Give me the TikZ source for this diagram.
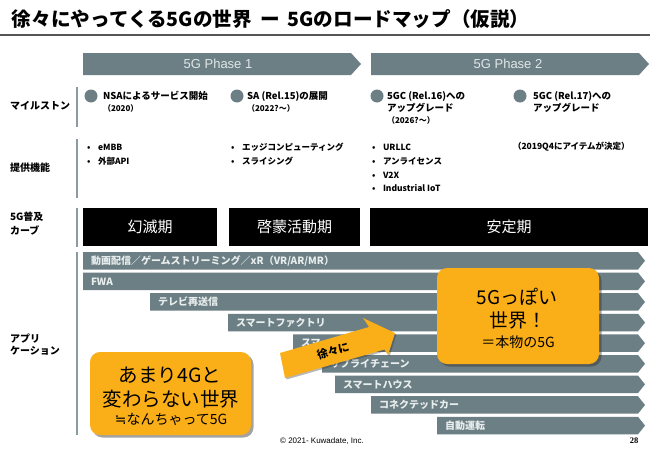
\documentclass[tikz,border=0pt]{standalone}
\usepackage{fontspec}
\setmainfont{Noto Sans CJK JP}
\newfontfamily\latf{Liberation Sans}
\newfontfamily\serf{Liberation Serif}
\newfontfamily\djv{DejaVu Sans}
\usetikzlibrary{shadows}
\definecolor{barc}{RGB}{108,127,132}
\definecolor{bartxt}{RGB}{232,237,237}
\definecolor{phasetxt}{RGB}{225,232,232}
\definecolor{orng}{RGB}{250,174,24}
\definecolor{sepc}{RGB}{140,155,160}
\definecolor{rulec}{RGB}{85,85,85}
\newcommand\fsz[2]{\fontsize{#1}{#2}\selectfont}
\newcommand\bult{\makebox[11pt][l]{•}}
\newcommand\appbar[3]{%
  \pgfmathsetmacro\yt{252+20.6*#1}%
  \fill[barc] (#2,\yt) -- (638,\yt) -- (645,\yt+8.75) -- (638,\yt+17.5) -- (#2,\yt+17.5) -- cycle;
  \node[bartext] (app#1) at (#2+8,\yt+8.75) {#3};
}
\begin{document}
\begin{tikzpicture}[x=1pt,y=-1pt,
  every node/.style={inner sep=0pt, outer sep=0pt},
  lbl/.style={anchor=west, font=\bfseries\fsz{10}{12}},
  ms/.style={anchor=west, font=\bfseries\fsz{9.5}{12}},
  mss/.style={anchor=west, font=\bfseries\fsz{8}{10}},
  msdot/.style={circle, fill=barc, minimum size=13pt},
  bul/.style={anchor=west, font=\bfseries\fsz{8.5}{10}},
  phase/.style={font=\latf\fsz{13}{15}, text=phasetxt},
  curvebox/.style={fill=black, text=white, font=\fsz{15}{18}},
  bartext/.style={anchor=west, font=\bfseries\fsz{10}{12}, text=bartxt},
  obox/.style={fill=orng, rounded corners=10pt,
    drop shadow={shadow xshift=2.5pt, shadow yshift=-2.5pt, opacity=0.45, fill=black!80}},
  sepline/.style={draw=sepc, line width=1.5pt}]
\useasboundingbox (0,0) rectangle (650,450);
\fill[white] (0,0) rectangle (650,450);

% title
\node[anchor=west, font=\bfseries\fsz{19.6}{22}] (title) at (12,19) {徐々にやってくる5Gの世界\hspace{9pt}ー\hspace{7pt}5Gのロードマップ（仮説）};
\coordinate (rl) at (0,35);
\coordinate (rr) at (650,35);
\draw[rulec, line width=2pt] (rl) -- (rr);

% phases
\fill[barc] (83,53) -- (351,53) -- (361,64) -- (351,75) -- (83,75) -- cycle;
\fill[barc] (371,53) -- (639,53) -- (649,64) -- (639,75) -- (371,75) -- cycle;
\node[phase] (ph1) at (218,64) {5G Phase 1};
\node[phase] (ph2) at (508,64) {5G Phase 2};

% row labels
\node[lbl] (lms) at (10,106) {マイルストン};
\node[lbl] (lfn) at (10,168) {提供機能};
\node[lbl] (lcv1) at (10,217) {5G普及};
\node[lbl] (lcv2) at (10,230) {カーブ};
\node[lbl] (lap1) at (10,338) {アプリ};
\node[lbl] (lap2) at (10,351) {ケーション};

% separators
\coordinate (s1a) at (77,87);  \coordinate (s1b) at (77,127);
\coordinate (s2a) at (77,139); \coordinate (s2b) at (77,198);
\coordinate (s3a) at (77,208); \coordinate (s3b) at (77,247);
\coordinate (s4a) at (77,252); \coordinate (s4b) at (77,435);
\draw[sepline] (s1a) -- (s1b);
\draw[sepline] (s2a) -- (s2b);
\draw[sepline] (s3a) -- (s3b);
\draw[sepline] (s4a) -- (s4b);

% milestones
\node[msdot] (d1) at (91,96) {};
\node[ms] (m1a) at (103,96) {NSAによるサービス開始};
\node[mss] (m1b) at (103,108) {（2020）};
\node[msdot] (d2) at (237,96) {};
\node[ms] (m2a) at (247,96) {SA (Rel.15)の展開};
\node[mss] (m2b) at (247,108) {（2022?～）};
\node[msdot] (d3) at (377,96) {};
\node[ms] (m3a) at (387,96) {5GC (Rel.16)への};
\node[ms] (m3b) at (387,108) {アップグレード};
\node[mss] (m3c) at (387,120) {（2026?～）};
\node[msdot] (d4) at (520,96) {};
\node[ms] (m4a) at (533,96) {5GC (Rel.17)への};
\node[ms] (m4b) at (533,108) {アップグレード};

% functions
\node[bul] (f1a) at (87,147) {\bult eMBB};
\node[bul] (f1b) at (87,161) {\bult 外部API};
\node[bul] (f2a) at (231,147) {\bult エッジコンピューティング};
\node[bul] (f2b) at (231,161) {\bult スライシング};
\node[bul] (f3a) at (372,147) {\bult URLLC};
\node[bul] (f3b) at (372,161) {\bult アンライセンス};
\node[bul] (f3c) at (372,175) {\bult V2X};
\node[bul] (f3d) at (372,188) {\bult Industrial IoT};
\node[bul] (f4a) at (513,147) {（2019Q4にアイテムが決定）};

% curve boxes
\node[curvebox, minimum width=134pt, minimum height=38pt] (c1) at (150,227) {幻滅期};
\node[curvebox, minimum width=131pt, minimum height=38pt] (c2) at (294.5,227) {啓蒙活動期};
\node[curvebox, minimum width=278pt, minimum height=38pt] (c3) at (509,227) {安定期};

% application bars
\appbar{0}{83}{動画配信／ゲームストリーミング／xR（VR/AR/MR）}
\appbar{1}{83}{FWA}
\appbar{2}{150}{テレビ再送信}
\appbar{3}{228}{スマートファクトリ}
\appbar{4}{293}{スマートシティ}
\appbar{5}{322}{サプライチェーン}
\appbar{6}{335}{スマートハウス}
\appbar{7}{371}{コネクテッドカー}
\appbar{8}{437}{自動運転}

% gradual arrow
\fill[orng, drop shadow={shadow xshift=1.5pt, shadow yshift=-1.5pt, opacity=0.35, fill=black!80}]
  (280,353) -- (369,327) -- (363,318) -- (395,333) -- (388,355) -- (384.5,349.5) -- (285,378) -- cycle;
\node[font=\bfseries\fsz{11}{12}, rotate=16] (grad) at (333,351) {徐々に};

% orange boxes
\node[obox, minimum width=161pt, minimum height=83pt] (leftbox) at (170.5,393.5) {};
\node[font=\fsz{19.5}{22}] (lt1) at (170,375) {あまり4Gと};
\node[font=\fsz{19.5}{22}] (lt2) at (171,399) {変わらない世界};
\node[font=\fsz{14}{16}] (lt3) at (171,419) {{\djv ≒}なんちゃって5G};

\node[obox, minimum width=162pt, minimum height=96pt] (rightbox) at (518,316) {};
\node[font=\fsz{19}{22}] (rt1) at (517,297) {5Gっぽい};
\node[font=\fsz{19}{22}] (rt2) at (518,320) {世界！};
\node[font=\fsz{14}{16}] (rt3) at (518,342) {＝本物の5G};

% footer
\node[font=\latf\fsz{8}{10}] (copy) at (322,441) {© 2021- Kuwadate, Inc.};
\node[font=\serf\bfseries\fsz{8.5}{10}] (pg) at (634,441) {28};
\end{tikzpicture}
\end{document}
